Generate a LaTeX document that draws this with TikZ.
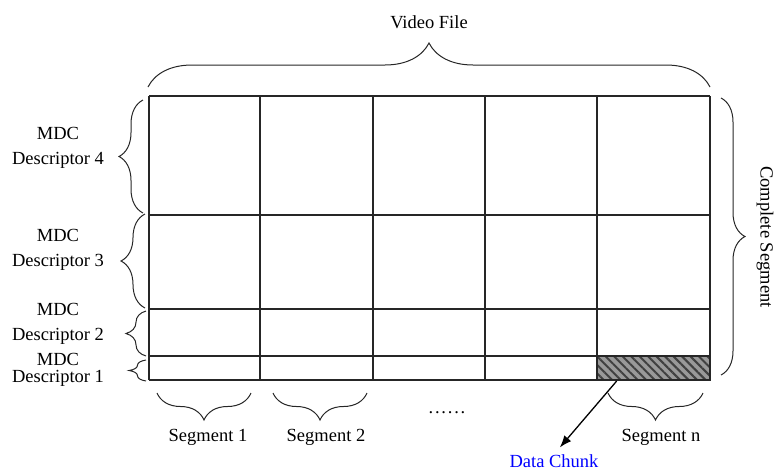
\documentclass[tikz,border=0pt]{standalone}
\usepackage{fontspec}
\setmainfont{Liberation Serif}
\usetikzlibrary{positioning, arrows.meta, decorations.pathreplacing, patterns.meta, calc}

\begin{document}
\begin{tikzpicture}[
    x=1pt, y=-1pt,
    font=\fontsize{18.5}{25}\selectfont,
    >=Latex,
    grid/.style={draw=black!85, line width=1.3pt},
    brc/.style={
        decorate,
        decoration={brace, amplitude=#1},
        draw=black!85,
        line width=1pt
    },
    lbl/.style={align=center, inner sep=0pt},
    chunk/.style={
        rectangle,
        draw=black!85,
        line width=1.3pt,
        inner sep=0pt,
        minimum width=113pt,
        minimum height=24pt,
        preaction={fill=black!40},
        pattern={Lines[angle=-45, distance=6pt, line width=2pt]},
        pattern color=black!75
    },
    arrow/.style={-{Latex[length=12pt, width=9pt]}, line width=1.3pt}
]
\useasboundingbox (0,0) rectangle (777,472);

% table of descriptors x segments
\foreach \x in {149,260,373,485,597,710}
    \draw[grid] (\x,96) -- (\x,380);
\foreach \y in {96,215,309,356,380}
    \draw[grid] (149,\y) -- (710,\y);

\node[chunk] (chunk) at (653.5,368) {};

% whole file
\draw[brc=44] (148,87) -- (710,87);
\node[lbl] (video) at (429,22) {Video File};

% descriptors
\draw[brc=24] (143,213) -- (143,100);
\draw[brc=24] (145,308) -- (145,214);
\draw[brc=20] (146,356) -- (146,311);
\draw[brc=17] (146,381) -- (146,360);
\node[lbl] (desc4) at (58,147.5) {MDC\\Descriptor 4};
\node[lbl] (desc3) at (58,249.5) {MDC\\Descriptor 3};
\node[lbl] (desc2) at (58,323.5) {MDC\\Descriptor 2};
\node[lbl] (desc1) at (58,369.5) {MDC\\[-8pt]Descriptor 1};

% complete segment
\draw[brc=24] (721,98) -- (721,375);
\node[lbl, rotate=-90] (complete) at (765,237) {Complete Segment};

% segments
\draw[brc=27] (251,393) -- (157,393);
\draw[brc=27] (367,393) -- (273,393);
\draw[brc=27] (703,393) -- (608,393);
\node[lbl] (seg1) at (208,437) {Segment 1};
\node[lbl] (seg2) at (326,437) {Segment 2};
\node[lbl] (dots) at (447,413) {.\hspace{1.8pt}.\hspace{1.8pt}.\hspace{1.8pt}.\hspace{1.8pt}.\hspace{1.8pt}.};
\node[lbl] (segn) at (661,437) {Segment n};

% data chunk
\node[lbl, text=blue] (dchunk) at (554,461) {Data Chunk};
\draw[arrow, shorten >=9pt] ($(chunk.south west)!0.18!(chunk.south east)$) -- (dchunk.north);

\end{tikzpicture}
\end{document}
